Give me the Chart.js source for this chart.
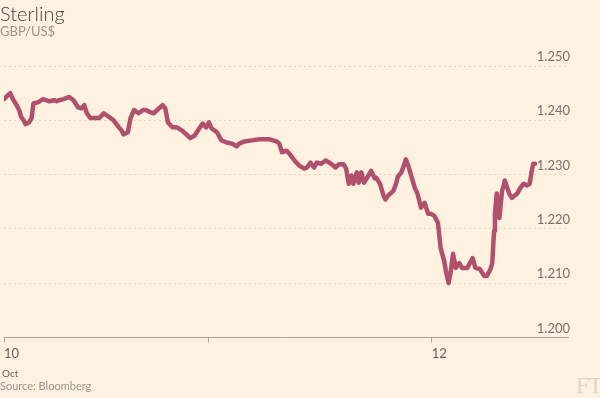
<!DOCTYPE html>
<html>
<head>
<meta charset="utf-8">
<script src="https://cdn.jsdelivr.net/npm/chart.js@4/dist/chart.umd.min.js"></script>
<style>
  body { margin: 0; background: #fff1e0; }
  #wrap { position: relative; width: 600px; height: 398px; background: #fff1e0; font-family: Lato, "Open Sans", sans-serif; }
  #myChart { position: absolute; left: 0; top: 0; }
  .txt { position: absolute; white-space: nowrap; }
  #title { left: 0; top: 1px; font-size: 20px; color: #46423f; font-weight: 300; }
  #sub { left: 0; top: 23px; font-size: 13px; color: #9a948e; }
  #oct { left: 2px; top: 367px; font-size: 10px; color: #66605c; }
  #source { left: 0; top: 379px; font-size: 11px; color: #9a948e; }
  #logo { left: 576px; top: 372px; font-size: 24px; color: #e3d5c4; font-family: "Liberation Serif", "DejaVu Serif", serif; letter-spacing: -1px; }
</style>
</head>
<body>
<div id="wrap">
  <canvas id="myChart" width="600" height="398"></canvas>
  <div class="txt" id="title">Sterling</div>
  <div class="txt" id="sub">GBP/US$</div>
  <div class="txt" id="oct">Oct</div>
  <div class="txt" id="source">Source: Bloomberg</div>
  <div class="txt" id="logo">FT</div>
</div>
<script>
// hours since 10 Oct 00:00
const hours = [0, 0.3, 0.7, 1.0, 1.3, 1.7, 1.9, 2.2, 2.4, 2.8, 3.1, 3.3, 3.8, 4.4, 5.1, 5.6, 5.9, 6.2, 6.7, 7.3,
  7.8, 8.3, 8.7, 9.0, 9.3, 9.7, 10.1, 10.7, 11.2, 11.8, 12.3, 12.9, 13.2, 13.4, 13.9, 14.2, 14.6, 15.1, 15.6, 15.9,
  16.4, 16.8, 17.2, 17.8, 18.1, 18.4, 18.9, 19.4, 20.0, 20.6, 20.9, 21.4, 22.0, 22.3, 22.7, 23.0, 23.3, 23.9, 24.4, 25.0,
  25.6, 26.1, 26.4, 27.0, 27.8, 28.7, 29.8, 30.6, 30.9, 31.2, 31.7, 32.0, 32.6, 33.1, 33.7, 34.0, 34.4, 34.8, 35.1, 35.6,
  36.1, 36.7, 37.2, 37.6, 38.1, 38.4, 38.7, 39.0, 39.2, 39.6, 39.8, 40.1, 40.4, 40.9, 41.2, 41.6, 41.8, 42.2, 42.6, 42.8,
  43.1, 43.7, 44.0, 44.2, 44.6, 45.0, 45.1, 45.4, 45.7, 46.1, 46.4, 46.8, 47.2, 47.6, 47.9, 48.3, 48.7, 49.0, 49.4, 49.6,
  49.9, 50.1, 50.4, 50.7, 51.1, 51.4, 52.0, 52.6, 52.9, 53.4, 53.9, 54.2, 54.6, 54.8, 55.0, 55.1, 55.3, 55.6, 55.9, 56.1,
  56.2, 56.7, 57.0, 57.6, 57.9, 58.3, 58.7, 59.0, 59.2, 59.4, 59.6];

// GBP/US$ rate
const rates = [1.2439, 1.2444, 1.2450, 1.2439, 1.2431, 1.2419, 1.2407, 1.2400, 1.2393, 1.2396, 1.2404, 1.2431, 1.2433, 1.2439, 1.2435, 1.2437, 1.2435, 1.2437, 1.2439, 1.2443,
  1.2437, 1.2424, 1.2422, 1.2428, 1.2413, 1.2404, 1.2404, 1.2404, 1.2413, 1.2406, 1.2400, 1.2387, 1.2381, 1.2374, 1.2378, 1.2404, 1.2419, 1.2413, 1.2419, 1.2419,
  1.2415, 1.2413, 1.2419, 1.2428, 1.2422, 1.2396, 1.2387, 1.2387, 1.2381, 1.2372, 1.2367, 1.2372, 1.2387, 1.2394, 1.2387, 1.2396, 1.2385, 1.2378, 1.2363, 1.2359,
  1.2357, 1.2352, 1.2357, 1.2361, 1.2363, 1.2365, 1.2365, 1.2361, 1.2357, 1.2341, 1.2344, 1.2339, 1.2326, 1.2317, 1.2311, 1.2313, 1.2322, 1.2313, 1.2322, 1.2320,
  1.2326, 1.2320, 1.2313, 1.2319, 1.2319, 1.2311, 1.2283, 1.2298, 1.2283, 1.2304, 1.2285, 1.2304, 1.2285, 1.2298, 1.2307, 1.2293, 1.2294, 1.2283, 1.2261, 1.2254,
  1.2261, 1.2270, 1.2283, 1.2296, 1.2304, 1.2322, 1.2328, 1.2315, 1.2298, 1.2276, 1.2265, 1.2239, 1.2248, 1.2228, 1.2228, 1.2224, 1.2211, 1.2165, 1.2141, 1.2122,
  1.2100, 1.2117, 1.2154, 1.2128, 1.2137, 1.2128, 1.2128, 1.2146, 1.2128, 1.2126, 1.2113, 1.2113, 1.2126, 1.2137, 1.2196, 1.2228, 1.2265, 1.2220, 1.2270, 1.2281,
  1.2289, 1.2265, 1.2257, 1.2265, 1.2274, 1.2283, 1.2280, 1.2283, 1.2304, 1.2320, 1.2320];

// x-axis ticks (hours) and their labels
const tickHours = [0, 23, 48];
const tickLabels = ['10', '', '12'];

const ctx = document.getElementById('myChart').getContext('2d');

const data = {
  datasets: [{
    data: hours.map((h, i) => ({ x: h, y: rates[i] })),
    borderColor: '#b0506d',
    borderWidth: 4.5,
    pointRadius: 0,
    tension: 0,
    borderJoinStyle: 'round',
    borderCapStyle: 'round'
  }]
};

const config = {
  type: 'line',
  data: data,
  options: {
    responsive: false,
    animation: false,
    layout: { padding: { top: 66, left: 2, right: 28, bottom: 32 } },
    plugins: { legend: { display: false }, tooltip: { enabled: false } },
    scales: {
      x: {
        type: 'linear',
        min: 0,
        max: 63.3,
        afterBuildTicks: (scale) => { scale.ticks = tickHours.map(v => ({ value: v })); },
        grid: { drawOnChartArea: false, drawTicks: true, tickLength: 5, color: '#a9a39b' },
        border: { display: true, color: '#a9a39b' },
        ticks: {
          autoSkip: false,
          maxRotation: 0,
          align: 'start',
          padding: 4,
          color: '#66605c',
          font: { family: 'Lato', size: 13 },
          callback: (v) => tickLabels[tickHours.indexOf(v)] ?? ''
        }
      },
      y: {
        position: 'right',
        min: 1.2,
        max: 1.25,
        grid: { drawTicks: false, color: '#e2d6c7', lineWidth: 1 },
        border: { display: false, dash: [2, 3] },
        ticks: {
          stepSize: 0.01,
          mirror: true,
          padding: 2,
          labelOffset: -9,
          color: '#74706b',
          font: { family: 'Lato', size: 13 },
          callback: (v) => v.toFixed(3)
        }
      }
    }
  }
};

const mychart = new Chart(ctx, config);
</script>
</body>
</html>
